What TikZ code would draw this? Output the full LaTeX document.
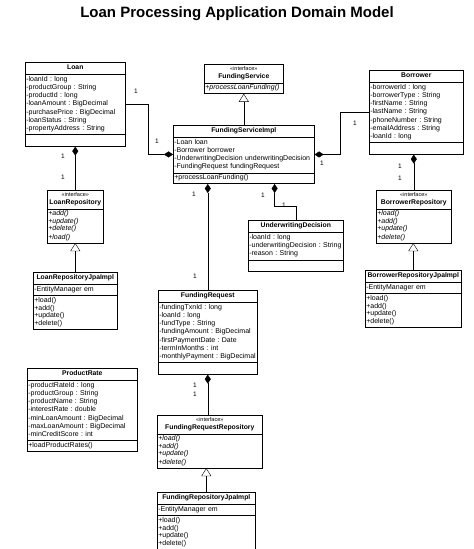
\documentclass[tikz,border=0pt]{standalone}
\usepackage{fontspec}
\setmainfont{Liberation Sans}
\usepackage{tikz}
\usetikzlibrary{shapes.multipart,arrows.meta}
\setlength{\parindent}{0pt}
\frenchspacing
\newcommand{\attrfont}{\fontsize{7}{8.2}\selectfont}
\newcommand{\opfont}{\fontsize{7}{7}\selectfont}
\newcommand{\stfont}{\fontsize{5.5}{6.5}\selectfont}
\newcommand{\clsname}[1]{\strut\makebox[\hsize]{\fontsize{6.8}{8.2}\selectfont\bfseries #1}}
\newcommand{\stereoname}[1]{\makebox[\hsize]{\stfont\strut «interface»}\\\clsname{#1}}

\begin{document}
\begin{tikzpicture}[x=1pt, y=-1pt,
  cls/.style={draw, line width=0.6pt, rectangle split, rectangle split parts=3, anchor=north west,
    inner xsep=1pt, inner ysep=1.4pt, align=left, font=\attrfont},
  iface/.style={cls, rectangle split parts=2},
  comp/.style={{Diamond[length=9pt,width=6pt]}-},
  real/.style={-{Triangle[open,length=8pt,width=10pt]}},
  mult/.style={font=\fontsize{6.5}{7}\selectfont, inner sep=0pt}]
\useasboundingbox (0,0) rectangle (474,549);
\node[font=\fontsize{15}{18}\selectfont\bfseries] (title) at (237,14) {Loan Processing Application Domain Model};

\node[cls, text width=98pt] (Loan) at (25,62) {\clsname{Loan}
  \nodepart{two}\strut -loanId : long\\ -productGroup : String\\ -productId : long\\ -loanAmount : BigDecimal\\ -purchasePrice : BigDecimal\\ -loanStatus : String\\ -propertyAddress : String\strut
  \nodepart{three}\strut};
\node[iface, text width=77pt] (FS) at (204,64) {\stereoname{FundingService}
  \nodepart{two}\opfont\itshape\strut +processLoanFunding()\strut};
\node[cls, text width=92pt] (Borrower) at (369,70) {\clsname{Borrower}
  \nodepart{two}\strut -borrowerId : long\\ -borrowerType : String\\ -firstName : String\\ -lastName : String\\ -phoneNumber : String\\ -emailAddress : String\\ -loanId : long\strut
  \nodepart{three}\strut};
\node[cls, text width=139pt] (FSI) at (173,125) {\clsname{FundingServiceImpl}
  \nodepart{two}\strut -Loan loan\\ -Borrower borrower\\ -UnderwritingDecision underwritingDecision\\ -FundingRequest fundingRequest\strut
  \nodepart{three}\opfont\strut +processLoanFunding()\strut};
\node[iface, text width=54pt] (LR) at (47,190) {\stereoname{LoanRepository}
  \nodepart{two}\opfont\itshape\strut +add()\\ +update()\\ +delete()\\ +load()\strut};
\node[cls, text width=82pt] (LRJpa) at (33,272) {\clsname{LoanRepositoryJpaImpl}
  \nodepart{two}\strut -EntityManager em\strut
  \nodepart{three}\opfont\strut +load()\\ +add()\\ +update()\\ +delete()\strut};
\node[cls, text width=93pt] (UD) at (248,220) {\clsname{UnderwritingDecision}
  \nodepart{two}\strut -loanId : long\\ -underwritingDecision : String\\ -reason : String\strut
  \nodepart{three}\strut};
\node[iface, text width=73pt] (BR) at (376,190) {\stereoname{BorrowerRepository}
  \nodepart{two}\opfont\itshape\strut +load()\\ +add()\\ +update()\\ +delete()\strut};
\node[cls, text width=94pt] (BRJpa) at (365,270) {\clsname{BorrowerRepositoryJpaImpl}
  \nodepart{two}\strut -EntityManager em\strut
  \nodepart{three}\opfont\strut +load()\\ +add()\\ +update()\\ +delete()\strut};
\node[cls, text width=97pt] (FR) at (158,290) {\clsname{FundingRequest}
  \nodepart{two}\strut -fundingTxnId : long\\ -loanId : long\\ -fundType : String\\ -fundingAmount : BigDecimal\\ -firstPaymentDate : Date\\ -termInMonths : int\\ -monthlyPayment : BigDecimal\strut
  \nodepart{three}\strut};
\node[cls, text width=108pt] (PR) at (27,368) {\clsname{ProductRate}
  \nodepart{two}\strut -productRateId : long\\ -productGroup : String\\ -productName : String\\ -interestRate : double\\ -minLoanAmount : BigDecimal\\ -maxLoanAmount : BigDecimal\\ -minCreditScore : int\strut
  \nodepart{three}\opfont\strut +loadProductRates()\strut};
\node[iface, text width=103pt] (FRR) at (157,415) {\stereoname{FundingRequestRepository}
  \nodepart{two}\opfont\itshape\strut +load()\\ +add()\\ +update()\\ +delete()\strut};
\node[cls, text width=96pt] (FRJpa) at (157,492) {\clsname{FundingRepositoryJpaImpl}
  \nodepart{two}\strut -EntityManager em\strut
  \nodepart{three}\opfont\strut +load()\\ +add()\\ +update()\\ +delete()\strut};

\draw[comp] (FSI.west) -- ++(-25,0) |- (Loan.east);
\draw[comp] (FSI.east) -- ++(26,0) |- (Borrower.west);
\draw[real] (FSI.north) -- (FSI.north |- FS.south);
\draw[comp] (Loan.south) -- (Loan.south |- LR.north);
\draw[real] (LRJpa.north) -- (LRJpa.north |- LR.south);
\draw[comp] (Borrower.south -| BR.north) -- (BR.north);
\draw[real] (BRJpa.north) -- (BRJpa.north |- BR.south);
\draw[comp] (FSI.south -| FR.north) -- (FR.north);
\draw[comp] ([xshift=-40pt]FSI.south east) -- ++(0,22) -| (UD.north);
\draw[comp] (FR.south) -- (FR.south |- FRR.north);
\draw[real] (FRJpa.north) -- (FRJpa.north |- FRR.south);

\node[mult] (m1) at (136,91) {1};
\node[mult] (m2) at (157,141) {1};
\node[mult] (m3) at (355,123) {1};
\node[mult] (m4) at (322,163) {1};
\node[mult] (m5) at (63,156) {1};
\node[mult] (m6) at (63,177) {1};
\node[mult] (m7) at (400,166) {1};
\node[mult] (m8) at (400,178) {1};
\node[mult] (m9) at (194,194) {1};
\node[mult] (m10) at (195,276) {1};
\node[mult] (m11) at (263,195) {1};
\node[mult] (m12) at (284,205) {1};
\node[mult] (m13) at (195,385) {1};
\node[mult] (m14) at (195,394) {1};
\end{tikzpicture}
\end{document}
